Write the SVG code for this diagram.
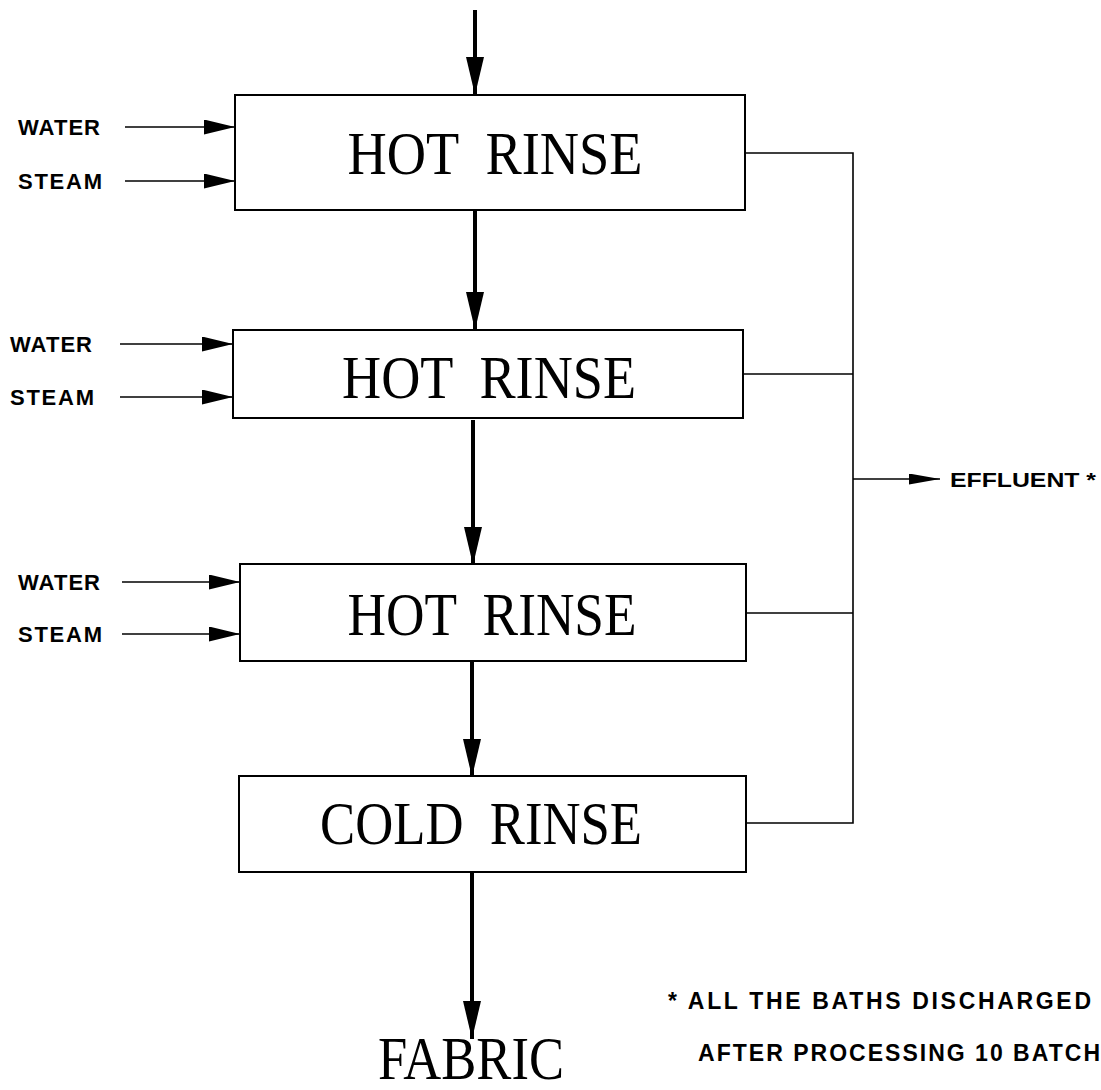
<svg xmlns="http://www.w3.org/2000/svg" width="1101" height="1090" viewBox="0 0 1101 1090">
  <style>
    text { white-space: pre; }
    .box { fill: #fff; stroke: #000; stroke-width: 2; }
    .title { font-family: "Liberation Serif", "Times New Roman", serif; font-size: 62px; fill: #000; }
    .label { font-family: "Liberation Sans", Arial, sans-serif; font-weight: bold; font-size: 22px; fill: #000; }
    .small { font-size: 20px; }
    .note { font-family: "Liberation Sans", Arial, sans-serif; font-weight: bold; font-size: 23px; fill: #000; }
    .flow { stroke: #000; stroke-width: 4; fill: none; }
    .feed { stroke: #000; stroke-width: 1.6; fill: none; }
    .drain { stroke: #000; stroke-width: 1.6; fill: none; }
  </style>
  <defs>
    <marker id="headBig" viewBox="0 0 38 18" refX="38" refY="9" markerWidth="38" markerHeight="18" markerUnits="userSpaceOnUse" orient="auto">
      <path d="M0,0 L38,9 L0,18 Z" fill="#000"/>
    </marker>
    <marker id="headFeed" viewBox="0 0 31 15" refX="31" refY="7.5" markerWidth="31" markerHeight="15" markerUnits="userSpaceOnUse" orient="auto">
      <path d="M0,0 L31,7.5 L0,15 Z" fill="#000"/>
    </marker>
    <marker id="headOut" viewBox="0 0 31 11" refX="31" refY="5.5" markerWidth="31" markerHeight="11" markerUnits="userSpaceOnUse" orient="auto">
      <path d="M0,0 L31,5.5 L0,11 Z" fill="#000"/>
    </marker>
  </defs>

  <rect width="1101" height="1090" fill="#fff"/>

  <!-- connectors -->
  <g id="connectors">
    <!-- fabric flow -->
    <line class="flow" x1="475" y1="10" x2="475" y2="95" marker-end="url(#headBig)"/>
    <line class="flow" x1="475" y1="211" x2="475" y2="330" marker-end="url(#headBig)"/>
    <line class="flow" x1="473" y1="420" x2="473" y2="565" marker-end="url(#headBig)"/>
    <line class="flow" x1="472" y1="662" x2="472" y2="777" marker-end="url(#headBig)"/>
    <line class="flow" x1="472" y1="873" x2="472" y2="1039" marker-end="url(#headBig)"/>
    <!-- water / steam feeds -->
    <line class="feed" x1="125" y1="127" x2="235" y2="127" marker-end="url(#headFeed)"/>
    <line class="feed" x1="125" y1="181" x2="235" y2="181" marker-end="url(#headFeed)"/>
    <line class="feed" x1="120" y1="344" x2="233" y2="344" marker-end="url(#headFeed)"/>
    <line class="feed" x1="120" y1="397" x2="233" y2="397" marker-end="url(#headFeed)"/>
    <line class="feed" x1="122" y1="582" x2="240" y2="582" marker-end="url(#headFeed)"/>
    <line class="feed" x1="122" y1="634" x2="240" y2="634" marker-end="url(#headFeed)"/>
    <!-- effluent collector -->
    <polyline class="drain" points="745,153 853,153 853,823 746,823"/>
    <line class="drain" x1="743" y1="374" x2="853" y2="374"/>
    <line class="drain" x1="746" y1="613" x2="853" y2="613"/>
    <line class="drain" x1="853" y1="479" x2="940" y2="479" marker-end="url(#headOut)"/>
  </g>

  <g id="hot-rinse-1">
    <rect class="box" x="235" y="95" width="510" height="115"/>
    <text class="title" x="495" y="174" text-anchor="middle" textLength="295" lengthAdjust="spacingAndGlyphs">HOT  RINSE</text>
  </g>
  <g id="hot-rinse-2">
    <rect class="box" x="233" y="330" width="510" height="88"/>
    <text class="title" x="489" y="398" text-anchor="middle" textLength="294" lengthAdjust="spacingAndGlyphs">HOT  RINSE</text>
  </g>
  <g id="hot-rinse-3">
    <rect class="box" x="240" y="564" width="506" height="97"/>
    <text class="title" x="492" y="635" text-anchor="middle" textLength="289" lengthAdjust="spacingAndGlyphs">HOT  RINSE</text>
  </g>
  <g id="cold-rinse">
    <rect class="box" x="239" y="776" width="507" height="96"/>
    <text class="title" x="481" y="844" text-anchor="middle" textLength="322" lengthAdjust="spacingAndGlyphs">COLD  RINSE</text>
  </g>

  <g id="inputs">
    <text class="label" x="18" y="135" textLength="82" lengthAdjust="spacing">WATER</text>
    <text class="label" x="18" y="189" textLength="84" lengthAdjust="spacing">STEAM</text>
    <text class="label" x="10" y="352" textLength="82" lengthAdjust="spacing">WATER</text>
    <text class="label" x="10" y="405" textLength="84" lengthAdjust="spacing">STEAM</text>
    <text class="label" x="18" y="590" textLength="82" lengthAdjust="spacing">WATER</text>
    <text class="label" x="18" y="642" textLength="84" lengthAdjust="spacing">STEAM</text>
  </g>

  <g id="effluent">
    <text class="label small" x="950" y="487" textLength="146" lengthAdjust="spacingAndGlyphs">EFFLUENT *</text>
  </g>

  <g id="fabric">
    <text class="title" x="471" y="1079" text-anchor="middle" font-size="49" textLength="186" lengthAdjust="spacingAndGlyphs">FABRIC</text>
  </g>

  <g id="footnote">
    <text class="note" x="668" y="1009" textLength="423" lengthAdjust="spacing">* ALL THE BATHS DISCHARGED</text>
    <text class="note" x="698" y="1061" textLength="402" lengthAdjust="spacing">AFTER PROCESSING 10 BATCH</text>
  </g>
</svg>
